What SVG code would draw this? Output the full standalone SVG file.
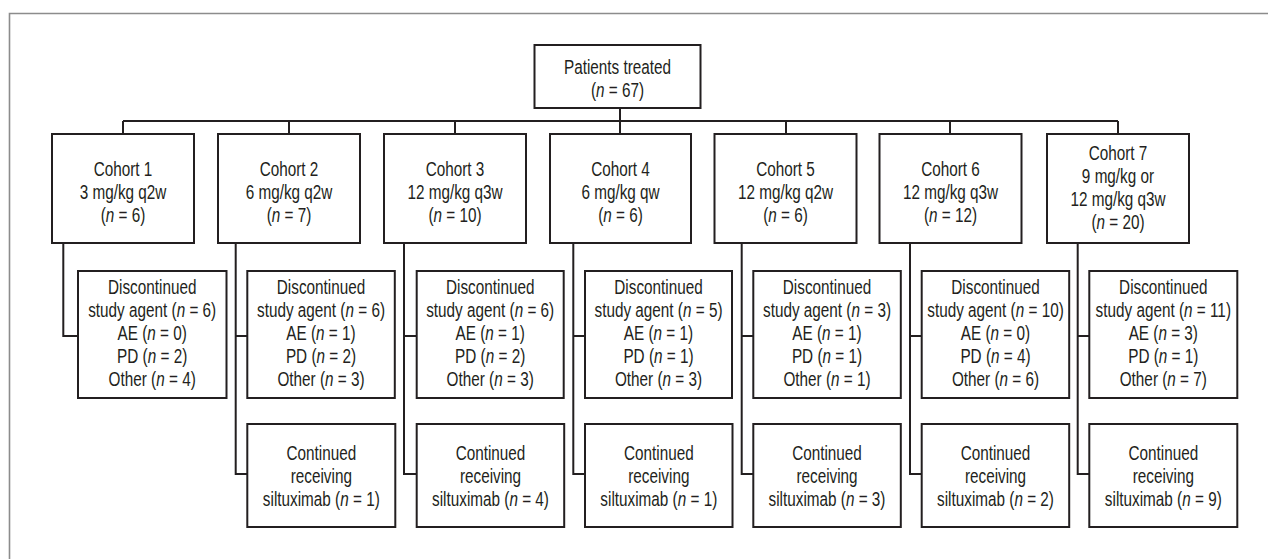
<svg xmlns="http://www.w3.org/2000/svg" width="1268" height="559" viewBox="0 0 1268 559">
<style>
.box{fill:#fff;stroke:#231f20;stroke-width:2}
.ln{fill:none;stroke:#231f20;stroke-width:2}
.frame{fill:none;stroke:#8c8c8c;stroke-width:1.6}
text{font-family:"Liberation Sans Narrow","Liberation Sans",Arial,sans-serif;font-size:19.5px;fill:#231f20;text-anchor:middle}
.i{font-style:italic}
</style>
<rect width="1268" height="559" fill="#fff"/>
<path class="frame" d="M9.5,559 V13.5 H1268"/>
<g id="connectors">
<path class="ln" d="M620,108 V121 M123,121 H1118 M123,121 V134 M289,121 V134 M455,121 V134 M620,121 V134 M786,121 V134 M950,121 V134 M1118,121 V134"/>
<path class="ln" d="M63.3,243 V336 H78"/>
<path class="ln" d="M235.7,243 V474 H247.3 M235.7,336 H247.3"/>
<path class="ln" d="M404,243 V474 H416.7 M404,336 H416.7"/>
<path class="ln" d="M573.3,243 V474 H585 M573.3,336 H585"/>
<path class="ln" d="M741.7,243 V474 H753.3 M741.7,336 H753.3"/>
<path class="ln" d="M910,243 V474 H921.7 M910,336 H921.7"/>
<path class="ln" d="M1077.7,243 V474 H1089.3 M1077.7,336 H1089.3"/>
</g>
<g id="top"><rect class="box" x="534.5" y="45" width="166" height="63"/><g transform="translate(617.5 0) scale(0.785 1)"><text y="74">Patients treated</text><text y="97">(<tspan class="i">n</tspan> = 67)</text></g></g>
<g id="cohort1"><rect class="box" x="52" y="134" width="142" height="109"/><g transform="translate(123 0) scale(0.785 1)"><text y="176">Cohort 1</text><text y="199.5">3 mg/kg q2w</text><text y="222.5">(<tspan class="i">n</tspan> = 6)</text></g></g>
<g id="cohort2"><rect class="box" x="218" y="134" width="142" height="109"/><g transform="translate(289 0) scale(0.785 1)"><text y="176">Cohort 2</text><text y="199.5">6 mg/kg q2w</text><text y="222.5">(<tspan class="i">n</tspan> = 7)</text></g></g>
<g id="cohort3"><rect class="box" x="384" y="134" width="142" height="109"/><g transform="translate(455 0) scale(0.785 1)"><text y="176">Cohort 3</text><text y="199.5">12 mg/kg q3w</text><text y="222.5">(<tspan class="i">n</tspan> = 10)</text></g></g>
<g id="cohort4"><rect class="box" x="550" y="134" width="141" height="109"/><g transform="translate(620.5 0) scale(0.785 1)"><text y="176">Cohort 4</text><text y="199.5">6 mg/kg qw</text><text y="222.5">(<tspan class="i">n</tspan> = 6)</text></g></g>
<g id="cohort5"><rect class="box" x="714.5" y="134" width="142" height="109"/><g transform="translate(785.5 0) scale(0.785 1)"><text y="176">Cohort 5</text><text y="199.5">12 mg/kg q2w</text><text y="222.5">(<tspan class="i">n</tspan> = 6)</text></g></g>
<g id="cohort6"><rect class="box" x="879.5" y="134" width="142" height="109"/><g transform="translate(950.5 0) scale(0.785 1)"><text y="176">Cohort 6</text><text y="199.5">12 mg/kg q3w</text><text y="222.5">(<tspan class="i">n</tspan> = 12)</text></g></g>
<g id="cohort7"><rect class="box" x="1047" y="134" width="142" height="109"/><g transform="translate(1118 0) scale(0.785 1)"><text y="160">Cohort 7</text><text y="183">9 mg/kg or</text><text y="206">12 mg/kg q3w</text><text y="229">(<tspan class="i">n</tspan> = 20)</text></g></g>
<g id="disc1"><rect class="box" x="78" y="271" width="148.5" height="127"/><g transform="translate(152.2 0) scale(0.785 1)"><text y="294.5">Discontinued</text><text y="317.5">study agent (<tspan class="i">n</tspan> = 6)</text><text y="340.5">AE (<tspan class="i">n</tspan> = 0)</text><text y="363.5">PD (<tspan class="i">n</tspan> = 2)</text><text y="386.5">Other (<tspan class="i">n</tspan> = 4)</text></g></g>
<g id="disc2"><rect class="box" x="247.3" y="271" width="147.5" height="127"/><g transform="translate(321 0) scale(0.785 1)"><text y="294.5">Discontinued</text><text y="317.5">study agent (<tspan class="i">n</tspan> = 6)</text><text y="340.5">AE (<tspan class="i">n</tspan> = 1)</text><text y="363.5">PD (<tspan class="i">n</tspan> = 2)</text><text y="386.5">Other (<tspan class="i">n</tspan> = 3)</text></g></g>
<g id="disc3"><rect class="box" x="416.7" y="271" width="147" height="127"/><g transform="translate(490.2 0) scale(0.785 1)"><text y="294.5">Discontinued</text><text y="317.5">study agent (<tspan class="i">n</tspan> = 6)</text><text y="340.5">AE (<tspan class="i">n</tspan> = 1)</text><text y="363.5">PD (<tspan class="i">n</tspan> = 2)</text><text y="386.5">Other (<tspan class="i">n</tspan> = 3)</text></g></g>
<g id="disc4"><rect class="box" x="585" y="271" width="147" height="127"/><g transform="translate(658.5 0) scale(0.785 1)"><text y="294.5">Discontinued</text><text y="317.5">study agent (<tspan class="i">n</tspan> = 5)</text><text y="340.5">AE (<tspan class="i">n</tspan> = 1)</text><text y="363.5">PD (<tspan class="i">n</tspan> = 1)</text><text y="386.5">Other (<tspan class="i">n</tspan> = 3)</text></g></g>
<g id="disc5"><rect class="box" x="753.3" y="271" width="147.5" height="127"/><g transform="translate(827 0) scale(0.785 1)"><text y="294.5">Discontinued</text><text y="317.5">study agent (<tspan class="i">n</tspan> = 3)</text><text y="340.5">AE (<tspan class="i">n</tspan> = 1)</text><text y="363.5">PD (<tspan class="i">n</tspan> = 1)</text><text y="386.5">Other (<tspan class="i">n</tspan> = 1)</text></g></g>
<g id="disc6"><rect class="box" x="921.7" y="271" width="147.5" height="127"/><g transform="translate(995.5 0) scale(0.785 1)"><text y="294.5">Discontinued</text><text y="317.5">study agent (<tspan class="i">n</tspan> = 10)</text><text y="340.5">AE (<tspan class="i">n</tspan> = 0)</text><text y="363.5">PD (<tspan class="i">n</tspan> = 4)</text><text y="386.5">Other (<tspan class="i">n</tspan> = 6)</text></g></g>
<g id="disc7"><rect class="box" x="1089.3" y="271" width="148" height="127"/><g transform="translate(1163.3 0) scale(0.785 1)"><text y="294.5">Discontinued</text><text y="317.5">study agent (<tspan class="i">n</tspan> = 11)</text><text y="340.5">AE (<tspan class="i">n</tspan> = 3)</text><text y="363.5">PD (<tspan class="i">n</tspan> = 1)</text><text y="386.5">Other (<tspan class="i">n</tspan> = 7)</text></g></g>
<g id="cont2"><rect class="box" x="247.3" y="424" width="148" height="103"/><g transform="translate(321.3 0) scale(0.785 1)"><text y="460">Continued</text><text y="483">receiving</text><text y="506">siltuximab (<tspan class="i">n</tspan> = 1)</text></g></g>
<g id="cont3"><rect class="box" x="416.7" y="424" width="147.5" height="103"/><g transform="translate(490.5 0) scale(0.785 1)"><text y="460">Continued</text><text y="483">receiving</text><text y="506">siltuximab (<tspan class="i">n</tspan> = 4)</text></g></g>
<g id="cont4"><rect class="box" x="585" y="424" width="147.5" height="103"/><g transform="translate(658.8 0) scale(0.785 1)"><text y="460">Continued</text><text y="483">receiving</text><text y="506">siltuximab (<tspan class="i">n</tspan> = 1)</text></g></g>
<g id="cont5"><rect class="box" x="753.3" y="424" width="147.5" height="103"/><g transform="translate(827 0) scale(0.785 1)"><text y="460">Continued</text><text y="483">receiving</text><text y="506">siltuximab (<tspan class="i">n</tspan> = 3)</text></g></g>
<g id="cont6"><rect class="box" x="921.7" y="424" width="147.5" height="103"/><g transform="translate(995.5 0) scale(0.785 1)"><text y="460">Continued</text><text y="483">receiving</text><text y="506">siltuximab (<tspan class="i">n</tspan> = 2)</text></g></g>
<g id="cont7"><rect class="box" x="1089.3" y="424" width="148" height="103"/><g transform="translate(1163.3 0) scale(0.785 1)"><text y="460">Continued</text><text y="483">receiving</text><text y="506">siltuximab (<tspan class="i">n</tspan> = 9)</text></g></g>
</svg>
